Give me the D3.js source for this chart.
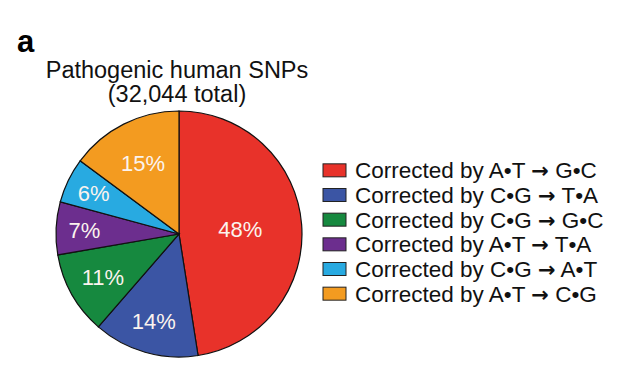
<!DOCTYPE html>
<html><head><meta charset="utf-8">
<script src="https://cdn.jsdelivr.net/npm/d3@7"></script>
<style>body{margin:0;background:#fff;}svg{display:block;font-family:"Liberation Sans",Arial,sans-serif;}</style>
</head><body>
<svg id="c" width="640" height="372"></svg>
<script>
const categories = ["Corrected by A•T → G•C","Corrected by C•G → T•A","Corrected by C•G → G•C","Corrected by A•T → T•A","Corrected by C•G → A•T","Corrected by A•T → C•G"];
const values = [48,14,11,7,6,15];
const labels = ["48%","14%","11%","7%","6%","15%"];
const colors = ["#e8322a","#3b55a4","#16893f","#6c2e8e","#28aae1","#f39b20"];
const labelR = [0.5,0.74,0.71,0.77,0.77,0.65];

const svg = d3.select("#c");
svg.append("text").attr("x",17).attr("y",52).attr("font-size",31).attr("font-weight","bold").text("a");
svg.append("text").attr("x",177).attr("y",78).attr("text-anchor","middle").attr("font-size",23.5).attr("fill","#111").text("Pathogenic human SNPs");
svg.append("text").attr("x",177).attr("y",102).attr("text-anchor","middle").attr("font-size",23.5).attr("fill","#111").text("(32,044 total)");

const R = 123, cx = 179, cy = 234;
const pie = d3.pie().sort(null).value(d=>d)(values);
const arc = d3.arc().innerRadius(0).outerRadius(R);
const g = svg.append("g").attr("transform",`translate(${cx},${cy})`);
g.selectAll("path").data(pie).join("path").attr("d",arc)
 .attr("fill",(d,i)=>colors[i]).attr("stroke","#111").attr("stroke-width",1.2);
g.selectAll("text").data(pie).join("text")
 .attr("transform",(d,i)=>{const a=(d.startAngle+d.endAngle)/2, r=R*labelR[i];return `translate(${r*Math.sin(a)},${-r*Math.cos(a)})`;})
 .attr("text-anchor","middle").attr("dy","0.36em").attr("font-size",22).attr("fill","#fbf3ee")
 .text((d,i)=>labels[i]);

const lg = svg.append("g");
const y = d3.scaleBand().domain(d3.range(categories.length)).range([158,306]);
const rows = lg.selectAll("g").data(categories).join("g").attr("transform",(d,i)=>`translate(0,${y(i)+y.bandwidth()/2})`);
rows.append("rect").attr("x",323).attr("y",-6.5).attr("width",23).attr("height",13).attr("fill",(d,i)=>colors[i]).attr("stroke","#222").attr("stroke-width",1);
const t = rows.append("text").attr("x",355).attr("dy","0.36em").attr("font-size",22.5).attr("fill","#111");
t.each(function(d){
  const parts = d.split("→");
  const s = d3.select(this);
  s.append("tspan").text(parts[0]);
  s.append("tspan").attr("font-family","DejaVu Sans").attr("font-size",21).attr("font-weight","bold").text("→");
  s.append("tspan").text(parts[1]);
});
</script>
</body></html>
